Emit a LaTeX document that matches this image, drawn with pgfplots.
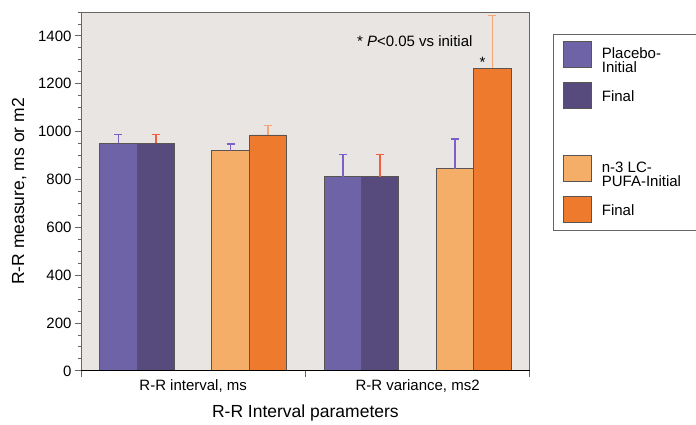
\documentclass[border=0pt]{standalone}
\usepackage{pgfplots}
\pgfplotsset{compat=1.18}
\usepackage{fontspec}
\setmainfont{Liberation Sans}
\definecolor{bgc}{RGB}{232,229,227}
\definecolor{pInit}{RGB}{111,99,168}
\definecolor{pFin}{RGB}{87,74,124}
\definecolor{nInit}{RGB}{245,174,104}
\definecolor{nFin}{RGB}{238,122,46}
\definecolor{ePurp}{RGB}{125,95,200}
\definecolor{eRed}{RGB}{240,95,65}
\definecolor{eOr}{RGB}{246,165,115}
\definecolor{barline}{RGB}{90,85,82}
\definecolor{axgray}{RGB}{105,100,98}
\newcommand\lent[2]{\raisebox{#1}[13pt][13pt]{\parbox[b]{84pt}{\fontsize{15}{14}\selectfont #2}}}
\begin{document}
\begin{tikzpicture}
\begin{axis}[
  at={(0pt,0pt)}, anchor=south west,
  scale only axis, width=449pt, height=359pt,
  xmin=0, xmax=12, ymin=0, ymax=1500,
  axis background/.style={fill=bgc},
  axis line style={draw=axgray, line width=0.9pt},
  every tick/.append style={draw=axgray, line width=0.9pt},
  tick align=outside, tick pos=left,
  major tick length=6pt, minor tick length=3pt,
  ytick={0,200,...,1600}, minor y tick num=3,
  xtick={0,6,12}, xticklabels={},
  extra x ticks={3,9},
  extra x tick labels={{R-R interval, ms},{R-R variance, ms2}},
  extra x tick style={major tick length=0pt, tick label style={yshift=-5pt}},
  /pgf/number format/assume math mode=true,
  /pgf/number format/1000 sep={},
  ticklabel style={font=\fontsize{15}{18}\selectfont, text=black},
  xlabel={R-R Interval parameters},
  ylabel={R-R measure, ms or m2},
  xlabel style={font=\fontsize{17.5}{20}\selectfont, at={(axis description cs:0.5,0)}, anchor=base, yshift=-47pt},
  ylabel style={font=\fontsize{17.5}{20}\selectfont, at={(axis description cs:-0.138,0.5)}, anchor=center},
  legend style={at={(1.0512,0.9387)}, anchor=north west, draw=axgray, fill=white,
    inner xsep=10pt, inner ysep=7pt, row sep=14pt, column sep=10pt, nodes={inner sep=0pt}},
  legend cell align=left,
]
\addplot[ybar, bar width=1, bar shift=0pt, fill=pInit, draw=barline, line width=0.9pt, forget plot,
  error bars/.cd, y dir=plus, y explicit,
  error bar style={draw=ePurp, line width=1.6pt},
  error mark options={draw=ePurp, line width=1.6pt, rotate=90, mark size=4pt}]
  coordinates {(1,951) +- (0,37) (7,812) +- (0,93)};
\addplot[ybar, bar width=1, bar shift=0pt, fill=pFin, draw=barline, line width=0.9pt, forget plot,
  error bars/.cd, y dir=plus, y explicit,
  error bar style={draw=eRed, line width=1.6pt},
  error mark options={draw=eRed, line width=1.6pt, rotate=90, mark size=4pt}]
  coordinates {(2,951) +- (0,37) (8,812) +- (0,93)};
\addplot[ybar, bar width=1, bar shift=0pt, fill=nInit, draw=barline, line width=0.9pt, forget plot,
  error bars/.cd, y dir=plus, y explicit,
  error bar style={draw=ePurp, line width=1.6pt},
  error mark options={draw=ePurp, line width=1.6pt, rotate=90, mark size=4pt}]
  coordinates {(4,920) +- (0,29) (10,844) +- (0,124)};
\addplot[ybar, bar width=1, bar shift=0pt, fill=nFin, draw=barline, line width=0.9pt, forget plot,
  error bars/.cd, y dir=plus, y explicit,
  error bar style={draw=eOr, line width=1.6pt},
  error mark options={draw=eOr, line width=1.6pt, rotate=90, mark size=4pt}]
  coordinates {(5,986) +- (0,39) (11,1265) +- (0,221)};
\addlegendimage{legend image code/.code={\draw[fill=pInit, draw=barline, line width=0.9pt] (0pt,-13pt) rectangle (28pt,13pt);}}
\addlegendentry{\lent{-12pt}{Placebo-\newline Initial}}
\addlegendimage{legend image code/.code={\draw[fill=pFin, draw=barline, line width=0.9pt] (0pt,-13pt) rectangle (28pt,13pt);}}
\addlegendentry{\lent{0pt}{Final}}
\addlegendimage{legend image code/.code={}}
\addlegendentry{\raisebox{0pt}[16.5pt][16.5pt]{}}
\addlegendimage{legend image code/.code={\draw[fill=nInit, draw=barline, line width=0.9pt] (0pt,-13pt) rectangle (28pt,13pt);}}
\addlegendentry{\lent{-12pt}{n-3 LC-\newline PUFA-Initial}}
\addlegendimage{legend image code/.code={\draw[fill=nFin, draw=barline, line width=0.9pt] (0pt,-13pt) rectangle (28pt,13pt);}}
\addlegendentry{\lent{0pt}{Final}}
\draw[black, line width=1.6pt] (axis cs:0,0) -- (axis cs:12,0);
\node[anchor=base west, inner sep=0pt, font=\fontsize{15}{18}\selectfont] at (axis cs:7.376,1354) {* \textit{P}<0.05 vs initial};
\node[anchor=base, inner sep=0pt, font=\fontsize{15}{18}\selectfont] at (axis cs:10.74,1268) {*};
\end{axis}
\path (-81pt,-54pt) rectangle (615pt,371pt);
\end{tikzpicture}
\end{document}
